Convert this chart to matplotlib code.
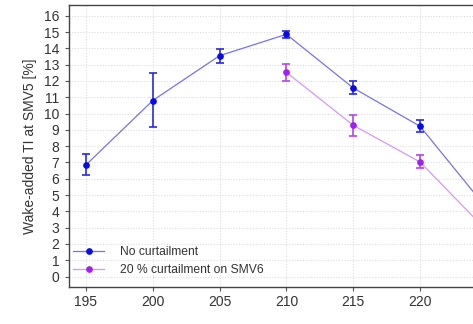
import matplotlib
matplotlib.use("Agg")
import matplotlib.pyplot as plt
from matplotlib.lines import Line2D

plt.rcParams['font.family'] = ['Liberation Sans', 'DejaVu Sans']

x_no = [195, 200, 205, 210, 215, 220, 225]
y_no = [6.85, 10.8, 13.55, 14.86, 11.57, 9.22, 4.18]
lo_no = [6.2, 9.15, 13.12, 14.61, 11.18, 8.85, 3.8]
hi_no = [7.5, 12.47, 13.98, 15.08, 11.98, 9.59, 4.6]

x_cu = [210, 215, 220, 225]
y_cu = [12.53, 9.28, 7.03, 2.81]
lo_cu = [12.0, 8.65, 6.68, 2.45]
hi_cu = [13.04, 9.9, 7.46, 3.2]

labels = ["No curtailment", "20 % curtailment on SMV6"]
xticks = [195, 200, 205, 210, 215, 220]
yticks = list(range(0, 17))

W, H = 473, 324
fig = plt.figure(figsize=(W / 100, H / 100), dpi=100)
left, right_px, top, bottom = 69, 69 + 502, 5.3, 287
ax = fig.add_axes([left / W, (H - bottom) / H, (right_px - left) / W, (bottom - top) / H])

blue_line, blue_mark, blue_err = '#7474ea', '#0a0ae6', '#2a2ae0'
pur_line, pur_mark, pur_err = '#d49af2', '#a020f0', '#b446e8'

ax.plot(x_no, y_no, color=blue_line, lw=0.9, zorder=2)
ax.errorbar(x_no, y_no, yerr=[[y - l for y, l in zip(y_no, lo_no)], [h - y for y, h in zip(y_no, hi_no)]],
            fmt='none', ecolor=blue_err, elinewidth=1.2, capsize=3, capthick=1.2, zorder=3)
ax.plot(x_no, y_no, 'o', color=blue_mark, ms=3.8, zorder=4)

ax.plot(x_cu, y_cu, color=pur_line, lw=0.9, zorder=2)
ax.errorbar(x_cu, y_cu, yerr=[[y - l for y, l in zip(y_cu, lo_cu)], [h - y for y, h in zip(y_cu, hi_cu)]],
            fmt='none', ecolor=pur_err, elinewidth=1.2, capsize=3, capthick=1.2, zorder=3)
ax.plot(x_cu, y_cu, 'o', color=pur_mark, ms=3.8, zorder=4)

ax.set_xlim(193.73, 231.3)
ax.set_ylim(-0.64, 16.64)
ax.set_xticks(xticks)
ax.set_yticks(yticks)
ax.tick_params(axis='both', direction='out', length=3, width=0.8, colors='#555555',
               labelcolor='#333333', labelsize=10, pad=3)
ax.tick_params(axis='y', pad=4)
ax.grid(True, color='#dcdcdc', linestyle=(0, (1, 1.5)), linewidth=0.8)
ax.set_axisbelow(True)
for s in ['left', 'bottom', 'top', 'right']:
    ax.spines[s].set_color('#444444')
    ax.spines[s].set_linewidth(1.0)

ax.set_ylabel("Wake-added TI at SMV5 [%]", fontsize=10, color='#333333', labelpad=5)

handles = [Line2D([], [], color=blue_line, lw=0.9, marker='o', mfc=blue_mark, mec=blue_mark, ms=3.8),
           Line2D([], [], color=pur_line, lw=0.9, marker='o', mfc=pur_mark, mec=pur_mark, ms=3.8)]
leg = ax.legend(handles, labels, loc='lower left', frameon=False, fontsize=8.7,
                handlelength=2.6, handletextpad=1.25, labelspacing=0.5,
                bbox_to_anchor=(73 / W, (H - 276) / H), bbox_transform=fig.transFigure,
                borderaxespad=0, borderpad=0)
for t in leg.get_texts():
    t.set_color('#333333')

fig.savefig("out.png", dpi=100)
